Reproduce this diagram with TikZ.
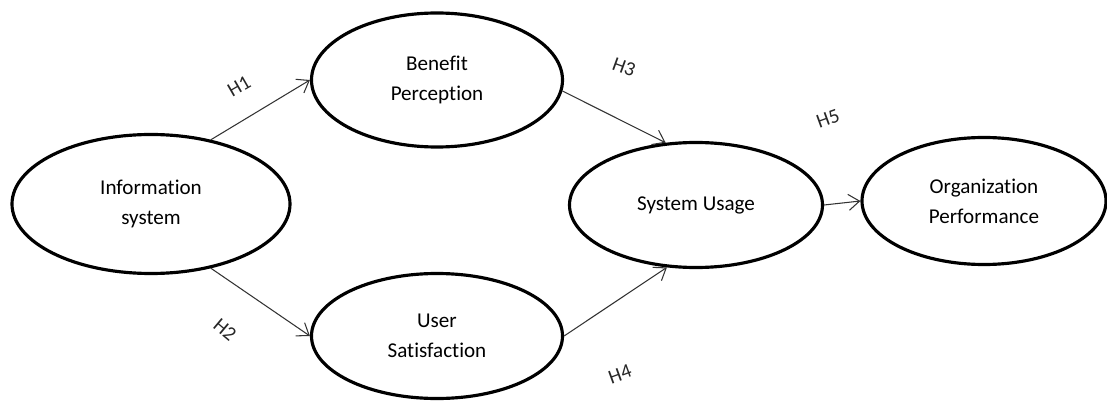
\documentclass[tikz,border=0pt]{standalone}
\usepackage{fontspec}
\setmainfont{Carlito}[Ligatures=NoCommon]
\usepackage{tikz}
\usetikzlibrary{shapes.geometric,arrows.meta}

\begin{document}
\begin{tikzpicture}[
    construct/.style={ellipse,draw,line width=1.8pt,inner sep=0pt,align=center,
      font=\fontsize{12}{17}\selectfont},
    hyp/.style={-{Straight Barb[length=2.2mm,width=3.2mm]},line width=0.6pt,draw=black!80},
    hlabel/.style={font=\fontsize{11.5}{14}\selectfont,text=black!85}
  ]
  \useasboundingbox (0,0) rectangle (22.14,-8.06);

  % Draw ellipses
  \node[construct,minimum width=5.56cm,minimum height=2.78cm] (info) at (3.02,-4.08) {Information\\system};
  \node[construct,minimum width=5.02cm,minimum height=2.68cm] (benefit) at (8.74,-1.60) {Benefit\\Perception};
  \node[construct,minimum width=5.02cm,minimum height=2.50cm] (user) at (8.74,-6.72) {User\\Satisfaction};
  \node[construct,minimum width=5.06cm,minimum height=2.50cm] (usage) at (13.92,-4.10) {System Usage};
  \node[construct,minimum width=4.88cm,minimum height=2.54cm] (perf) at (19.68,-4.02) {Organization\\Performance};

  % Connect ellipses with arrows
  \draw[hyp] (info.47) -- (benefit.west);
  \draw[hyp] (info.-47) -- (user.west);
  \draw[hyp] (benefit.-5) -- (usage.116);
  \draw[hyp] (user.east) -- (usage.245);
  \draw[hyp] (usage.east) -- (perf.west);

  % Hypothesis labels
  \node[hlabel,rotate=30] (h1) at (4.78,-1.72) {H1};
  \node[hlabel,rotate=-40] (h2) at (4.50,-6.60) {H2};
  \node[hlabel,rotate=-20] (h3) at (12.48,-1.34) {H3};
  \node[hlabel,rotate=20] (h4) at (12.40,-7.48) {H4};
  \node[hlabel,rotate=20] (h5) at (16.56,-2.38) {H5};
\end{tikzpicture}
\end{document}
